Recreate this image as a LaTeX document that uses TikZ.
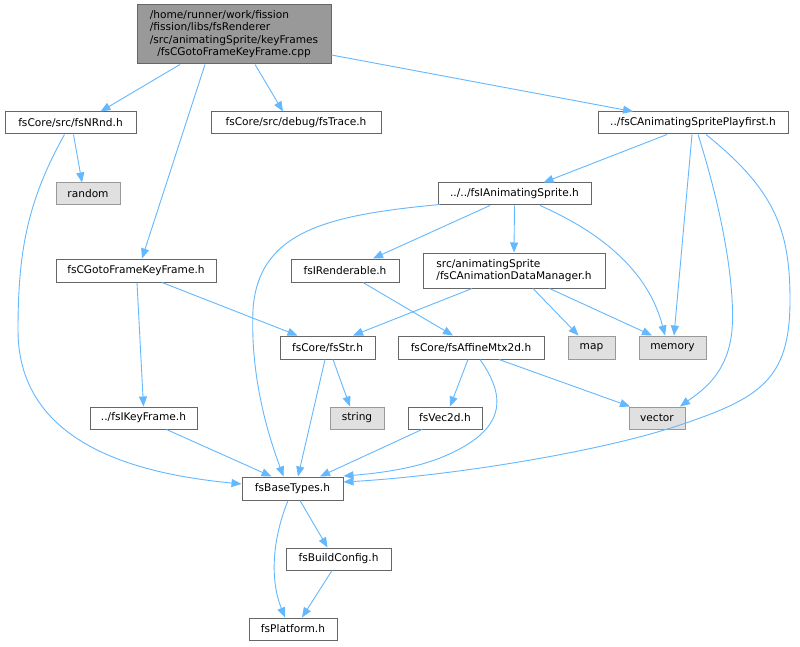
\documentclass[tikz,border=0pt]{standalone}
\usepackage{fontspec}
\setmainfont{DejaVu Sans}
\usetikzlibrary{arrows.meta,calc}
\definecolor{edgecol}{HTML}{63B8FF}
\definecolor{nodeborder}{HTML}{666666}
\definecolor{sysborder}{HTML}{999999}
\definecolor{sysfill}{HTML}{E0E0E0}
\definecolor{mainfill}{HTML}{999999}
\begin{document}
\begin{tikzpicture}[x=1pt,y=-1pt,
  box/.style={draw=nodeborder, fill=white, line width=1pt, inner sep=0pt, font=\fontsize{10.6}{12.2}\selectfont},
  sys/.style={box, draw=sysborder, fill=sysfill},
  e/.style={draw=edgecol, line width=0.9pt, -{Triangle[length=10pt,width=8pt]}}
]
\useasboundingbox (0,0) rectangle (800,647);
\fill[white] (0,0) rectangle (800,647);

\node[box, fill=mainfill, minimum width=194, minimum height=59] (main) at (234,34.5)
  {\begin{tabular}{@{}l@{}}/home/runner/work/fission\\/fission/libs/fsRenderer\\/src/animatingSprite/keyFrames\\\multicolumn{1}{@{}c@{}}{/fsCGotoFrameKeyFrame.cpp}\end{tabular}};
\node[box, minimum width=131, minimum height=22] (nrnd) at (70.5,123) {fsCore/src/fsNRnd.h};
\node[box, minimum width=170, minimum height=22] (trace) at (296,123) {fsCore/src/debug/fsTrace.h};
\node[box, minimum width=190, minimum height=22] (play) at (693,123) {../fsCAnimatingSpritePlayfirst.h};
\node[sys, minimum width=64, minimum height=22] (random) at (88,194) {random};
\node[box, minimum width=153, minimum height=22] (ianim) at (514.5,194) {../../fsIAnimatingSprite.h};
\node[box, minimum width=160, minimum height=23] (goto) at (136,270.5) {fsCGotoFrameKeyFrame.h};
\node[box, minimum width=108, minimum height=23] (rend) at (345,270.5) {fsIRenderable.h};
\node[box, minimum width=182, minimum height=35, align=left] (dm) at (514,270.5) {src/animatingSprite\\/fsCAnimationDataManager.h};
\node[box, minimum width=95, minimum height=23] (str) at (327.5,347.5) {fsCore/fsStr.h};
\node[box, minimum width=146, minimum height=23] (aff) at (471,347.5) {fsCore/fsAffineMtx2d.h};
\node[sys, minimum width=47, minimum height=23] (map) at (591.5,347.5) {map};
\node[sys, minimum width=67, minimum height=23] (memory) at (672.5,347.5) {memory};
\node[box, minimum width=107, minimum height=22] (ikey) at (143.5,418) {../fsIKeyFrame.h};
\node[sys, minimum width=54, minimum height=22] (string) at (357,418) {string};
\node[box, minimum width=74, minimum height=22] (vec) at (445,418) {fsVec2d.h};
\node[sys, minimum width=56, minimum height=22] (vector) at (657,418) {vector};
\node[box, minimum width=101, minimum height=23] (base) at (292.5,488.5) {fsBaseTypes.h};
\node[box, minimum width=105, minimum height=22] (build) at (338.5,559) {fsBuildConfig.h};
\node[box, minimum width=88, minimum height=22] (plat) at (293,629) {fsPlatform.h};

% main
\draw[e] ($(main.south)+(-54,0)$) -- ($(nrnd.north)+(30,0)$);
\draw[e] ($(main.south)+(-29,0)$) -- ($(goto.north)+(6,0)$);
\draw[e] ($(main.south)+(21,0)$) -- ($(trace.north)+(-13,0)$);
\draw[e] ($(main.east)+(0,20.5)$) -- ($(play.north)+(-60,0)$);
% nrnd
\draw[e] ($(nrnd.south)+(3,0)$) -- ($(random.north)+(-6,0)$);
\draw[e] ($(nrnd.south)+(-6,0)$) .. controls (28,200) and (18,250) .. (18,330)
  .. controls (18,450) and (150,475) .. ($(base.west)+(0,-4.5)$);
% playfirst
\draw[e] ($(play.south)+(-26,0)$) -- ($(ianim.north)+(29,0)$);
\draw[e] ($(play.south)+(-1,0)$) -- ($(memory.north)+(1.5,0)$);
\draw[e] ($(play.south)+(5,0)$) .. controls (725,220) and (735,290) .. (732,330)
  .. controls (728,375) and (700,392) .. ($(vector.north)+(23,0)$);
\draw[e] ($(play.south)+(13,0)$) .. controls (775,190) and (790,230) .. (790,300)
  .. controls (790,380) and (760,398) .. (680,425)
  .. controls (600,452) and (450,476) .. ($(base.east)+(0,-6.5)$);
% ianim
\draw[e] ($(ianim.south west)+(2,-1)$) .. controls (330,215) and (258,230) .. (253,310)
  .. controls (250,380) and (270,440) .. ($(base.north)+(-9,0)$);
\draw[e] ($(ianim.south)+(-24.5,0)$) -- ($(rend.north)+(28,0)$);
\draw[e] (ianim.south) -- (dm.north);
\draw[e] ($(ianim.south)+(25.5,0)$) .. controls (600,232) and (648,270) .. ($(memory.north)+(-7.5,0)$);
% goto
\draw[e] ($(goto.south)+(1,0)$) -- (ikey.north);
\draw[e] ($(goto.south)+(26,0)$) -- ($(str.north)+(-30,0)$);
% rend
\draw[e] ($(rend.south)+(18,0)$) -- ($(aff.north)+(-18,0)$);
% dm
\draw[e] ($(dm.south)+(-42,0)$) -- ($(str.north)+(25.5,0)$);
\draw[e] ($(dm.south)+(19,0)$) -- ($(map.north)+(-13,0)$);
\draw[e] ($(dm.south)+(35.5,0)$) -- ($(memory.north)+(-20.5,0)$);
% str
\draw[e] ($(str.south)+(-2.5,0)$) -- ($(base.north)+(5.5,0)$);
\draw[e] ($(str.south)+(5.5,0)$) -- ($(string.north)+(-7,0)$);
% aff
\draw[e] ($(aff.south)+(-3,0)$) -- ($(vec.north)+(5,0)$);
\draw[e] ($(aff.south)+(9,0)$) .. controls (505,395) and (510,430) .. (440,458)
  .. controls (410,470) and (370,474) .. ($(base.east)+(0,-12.5)$);
\draw[e] ($(aff.south)+(28,0)$) -- ($(vector.north)+(-27,0)$);
% ikey, vec
\draw[e] ($(ikey.south)+(23,0)$) -- ($(base.north)+(-21,0)$);
\draw[e] ($(vec.south)+(-23,0)$) -- ($(base.north)+(27.5,0)$);
% base
\draw[e] ($(base.south)+(7.5,0)$) -- ($(build.north)+(-11,0)$);
\draw[e] ($(base.south)+(-4.5,0)$) .. controls (272,540) and (270,580) .. ($(plat.north)+(-8,0)$);
\draw[e] ($(build.south)+(-6.5,0)$) -- ($(plat.north)+(9,0)$);
\end{tikzpicture}
\end{document}
